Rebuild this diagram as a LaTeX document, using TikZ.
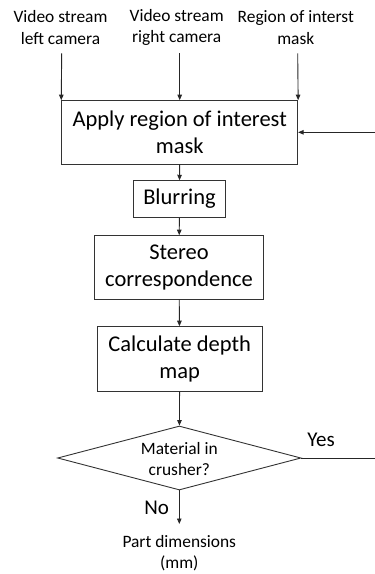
\documentclass[tikz,border=0pt]{standalone}
\usepackage{fontspec}
\setmainfont{Carlito}
\usetikzlibrary{arrows.meta,shapes.geometric}

\tikzset{
  flowline/.style={draw=black!85, line width=0.9pt},
  flowarrow/.style={flowline, -{Triangle[length=5.5pt,width=4.5pt]}},
  stepbox/.style={draw=black!80, line width=0.9pt, align=center, inner sep=0pt,
    font=\fontsize{22.5}{27}\selectfont},
  decision/.style={diamond, draw=black!80, line width=0.9pt, inner sep=0pt},
  smalltext/.style={align=center, inner sep=0pt, font=\fontsize{17.4}{21.6}\selectfont},
  branchtext/.style={inner sep=0pt, font=\fontsize{21}{25}\selectfont}
}

\begin{document}
\begin{tikzpicture}[x=1pt,y=-1pt]
  \useasboundingbox (0,0) rectangle (375,574);

  % inputs
  \node[smalltext] (left)  at (60.5,27.5)  {Video stream\\left camera};
  \node[smalltext] (right) at (176.7,27.5) {Video stream\\right camera};
  \node[smalltext] (roi)   at (295.8,27.5) {Region of interst\\mask};
  \coordinate (leftin)  at (61.7,53.3);
  \coordinate (rightin) at (179.7,53.3);
  \coordinate (roiin)   at (297.7,53.3);

  % processing chain
  \node[stepbox, minimum width=236pt, minimum height=63.3pt] (apply) at (179.7,132.3)
    {Apply region of interest\\mask};
  \node[stepbox, minimum width=92.7pt, minimum height=36.6pt] (blur) at (179.5,199)
    {Blurring};
  \node[stepbox, minimum width=169.4pt, minimum height=63.3pt] (stereo) at (179,267.3)
    {Stereo\\correspondence};
  \node[stepbox, minimum width=164.7pt, minimum height=64.3pt] (depth) at (179.7,358.8)
    {Calculate depth\\map};

  % decision
  \node[decision, minimum width=243.4pt, minimum height=64pt] (dec) at (179.3,458) {};
  \node[smalltext] (dectext) at (179.3,459) {Material in\\crusher?};
  \node[branchtext] (yes) at (321,440) {Yes};
  \node[branchtext] (no)  at (156.7,508) {No};

  % output
  \node[smalltext] (out) at (179.3,553) {Part dimensions\\(mm)};
  \coordinate (outtop) at (179.3,524);

  % feedback route
  \coordinate (backright) at (381,458);
  \coordinate (backup)    at (381,132.3);

  % connectors
  \draw[flowarrow] (leftin)  -- (apply.north west);
  \draw[flowarrow] (rightin) -- (apply.north);
  \draw[flowarrow] (roiin)   -- (apply.north east);
  \draw[flowarrow] (apply) -- (blur);
  \draw[flowarrow] (blur) -- (stereo);
  \draw[flowarrow] (stereo) -- (depth);
  \draw[flowarrow] (depth) -- (dec);
  \draw[flowarrow] (dec.south) -- (outtop);
  \draw[flowarrow] (dec.east) -- (backright) -- (backup) -- (apply.east);
\end{tikzpicture}
\end{document}
